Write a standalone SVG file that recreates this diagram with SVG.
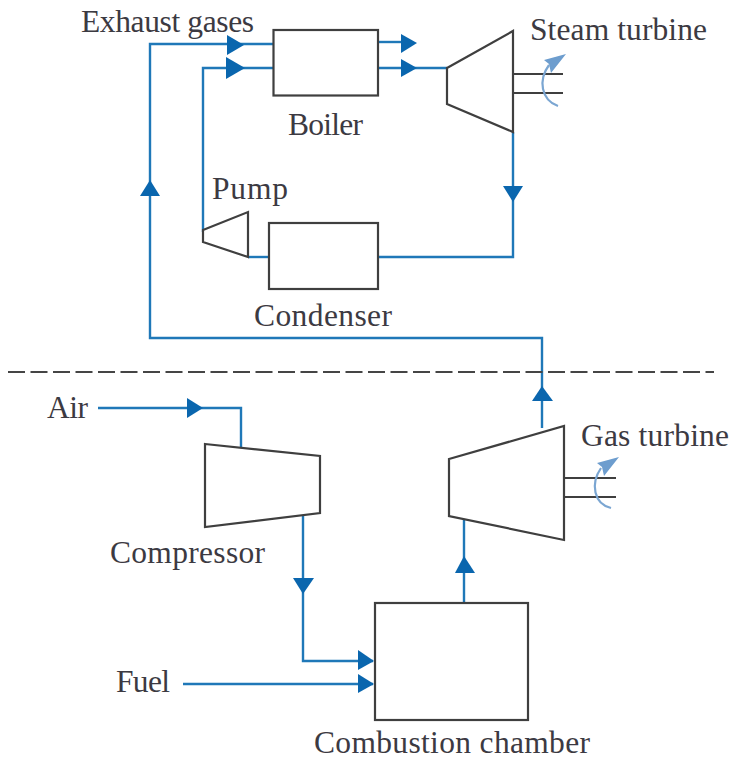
<svg xmlns="http://www.w3.org/2000/svg" width="734" height="760" viewBox="0 0 734 760">
<style>
.n{fill:#fff;stroke:#3f3f3f;stroke-width:2.2}
.s{fill:none;stroke:#3f3f3f;stroke-width:2}
.c{fill:none;stroke:#1f78b8;stroke-width:2.4}
.h{fill:#0a66ae;stroke:none}
.r{fill:none;stroke:#7ba6d2;stroke-width:2.2}
.rh{fill:#6d9dce;stroke:none}
text{font-family:"Liberation Serif","Times New Roman",serif;font-size:31.500px;fill:#3c3a42}
</style>
<g id="connectors">
<path class="c" d="M542 428V338H150V44H273"/>
<path class="c" d="M248 257H269"/>
<path class="c" d="M203 232V68H273"/>
<path class="c" d="M378 42H404"/>
<path class="c" d="M378 68H447"/>
<path class="c" d="M513 132V257H378"/>
<path class="c" d="M98 408H241V449"/>
<path class="c" d="M303 514V661H373"/>
<path class="c" d="M183 684H373"/>
<path class="c" d="M464 603V520"/>
<path class="h" d="M227 35L244 45L227 55Z"/>
<path class="h" d="M226 57L245 68L226 79Z"/>
<path class="h" d="M401 34L417 43L401 53Z"/>
<path class="h" d="M401 59L417 68L401 77Z"/>
<path class="h" d="M503 186H523L513 202Z"/>
<path class="h" d="M140 196L150 180L160 196Z"/>
<path class="h" d="M532 401L542 386L553 401Z"/>
<path class="h" d="M187 398L203 408L187 418Z"/>
<path class="h" d="M293 578H314L303 594Z"/>
<path class="h" d="M358 650L374 661L358 670Z"/>
<path class="h" d="M358 674L374 684L358 693Z"/>
<path class="h" d="M455 573L464 556L475 573Z"/>
</g>
<g id="divider"><path d="M8 372H714" fill="none" stroke="#454545" stroke-width="2" stroke-dasharray="17 5.5"/></g>
<g id="boiler"><rect class="n" x="273.500" y="30" width="104.500" height="65.500"/><text x="288" y="135" textLength="75">Boiler</text></g>
<g id="condenser"><rect class="n" x="269" y="223" width="109" height="66"/><text x="254" y="326" textLength="138">Condenser</text></g>
<g id="pump"><path class="n" d="M203 230L248 212V257L203 242Z"/><text x="212" y="199" textLength="76">Pump</text></g>
<g id="steam-turbine">
<path class="n" d="M447 68L513 31V132L447 104Z"/>
<path class="s" d="M513 74H563M513 93H563"/>
<path class="r" d="M558 106C541 100 538 80 549 65"/>
<path class="rh" d="M544 60L566 54L551 73L549 64Z"/>
<text x="530" y="40" textLength="177">Steam turbine</text>
</g>
<g id="gas-turbine">
<path class="n" d="M449 459L564 426V540L449 516Z"/>
<path class="s" d="M564 478H616M564 497H616"/>
<path class="r" d="M611 508C594 504 590 484 601 468"/>
<path class="rh" d="M597 463L619 457L604 476L602 467Z"/>
<text x="581" y="446" textLength="148">Gas turbine</text>
</g>
<g id="compressor">
<path class="n" d="M205 444L320 456V513L205 527Z"/>
<text x="110" y="563" textLength="155">Compressor</text>
</g>
<g id="combustion-chamber">
<rect class="n" x="375" y="603" width="153" height="117"/>
<text x="314" y="753" textLength="276">Combustion chamber</text>
</g>
<g id="label-exhaust"><text x="81" y="32" textLength="173">Exhaust gases</text></g>
<g id="label-air"><text x="47" y="418" textLength="41">Air</text></g>
<g id="label-fuel"><text x="116" y="692" textLength="54">Fuel</text></g>
</svg>
